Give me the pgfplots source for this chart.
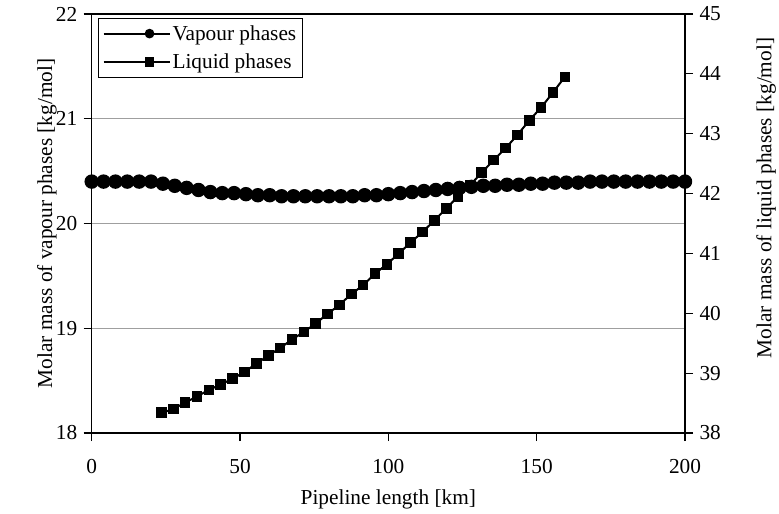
\documentclass[border=0pt]{standalone}
\usepackage{fontspec}
\setmainfont{Liberation Serif}
\usepackage{pgfplots}
\usepackage{pgfplotstable}
\pgfplotsset{compat=1.18}

% molar mass of the vapour phase along the line [kg/mol]
\pgfplotstableread{
x v
0 20.40
4 20.40
8 20.40
12 20.40
16 20.40
20 20.40
24 20.38
28 20.36
32 20.34
36 20.32
40 20.30
44 20.29
48 20.29
52 20.28
56 20.27
60 20.27
64 20.26
68 20.26
72 20.26
76 20.26
80 20.26
84 20.26
88 20.26
92 20.27
96 20.27
100 20.28
104 20.29
108 20.30
112 20.31
116 20.32
120 20.33
124 20.34
128 20.35
132 20.36
136 20.36
140 20.37
144 20.37
148 20.38
152 20.38
156 20.39
160 20.39
164 20.39
168 20.40
172 20.40
176 20.40
180 20.40
184 20.40
188 20.40
192 20.40
196 20.40
200 20.40
}\vapour

% molar mass of the liquid phase along the line [kg/mol]
\pgfplotstableread{
x l
23.5 38.34
27.5 38.40
31.5 38.51
35.5 38.61
39.5 38.72
43.5 38.81
47.5 38.91
51.5 39.02
55.5 39.16
59.5 39.29
63.5 39.42
67.5 39.56
71.5 39.69
75.5 39.83
79.5 39.99
83.5 40.14
87.5 40.32
91.5 40.47
95.5 40.66
99.5 40.82
103.5 41.00
107.5 41.18
111.5 41.36
115.5 41.55
119.5 41.75
123.5 41.95
127.5 42.14
131.5 42.35
135.5 42.56
139.5 42.76
143.5 42.98
147.5 43.22
151.5 43.44
155.5 43.69
159.5 43.95
}\liquid

\begin{document}
\begin{tikzpicture}
% fixed page frame around the plot area
\path[use as bounding box] (-91.7bp,-81bp) rectangle (687.3bp,433bp);
\pgfplotsset{
  every axis/.append style={
    scale only axis, width=593.3bp, height=419bp,
    xmin=0, xmax=200,
    font=\fontsize{21.4}{25}\selectfont,
    /pgf/number format/assume math mode=true,
    tick align=outside, major tick length=8bp,
    axis line style={line width=1.2bp},
    every tick/.style={line width=1.2bp, black},
  },
}
\begin{axis}[
  ymin=18, ymax=22, ytick={18,19,20,21,22},
  xtick={0,50,100,150,200},
  xtick pos=bottom, ytick pos=left,
  ymajorgrids, grid style={gray!75, line width=1.2bp},
  xlabel={Pipeline length [km]},
  ylabel={Molar mass of vapour phases [kg/mol]},
  xlabel style={at={(axis description cs:0.5,-0.158)}, anchor=center},
  ylabel style={at={(axis description cs:-0.0755,0.5)}, anchor=center},
  xticklabel style={yshift=-15bp},
  yticklabel style={xshift=-3bp},
]
\addplot[black, line width=2bp, mark=*, mark size=6.2bp] table[x=x, y=v] {\vapour};
\end{axis}

\begin{axis}[
  axis x line=none, axis y line*=right,
  ymin=38, ymax=45, ytick={38,39,...,45},
  ylabel={Molar mass of liquid phases [kg/mol]},
  ylabel style={at={(axis description cs:1.137,0.561)}, anchor=center},
  yticklabel style={xshift=3bp},
  legend cell align=left,
  legend style={at={(axis description cs:0.0107,0.9905)}, anchor=north west,
    draw=black, line width=1bp, inner xsep=4bp, inner ysep=5bp,
    font=\fontsize{21.4}{25}\selectfont, row sep=8bp},
  legend image code/.code={
    \path (0bp,0bp) -- (26bp,0bp);
    \draw[#1, line width=2bp, mark size=3.8bp, mark repeat=2, mark phase=2]
      plot coordinates {(26bp,0bp) (46bp,0bp) (66bp,0bp)};
  },
]
\addlegendimage{black, line width=2bp, mark=*}
\addlegendentry{Vapour phases\hspace{14bp}}
\addplot[black, line width=2bp, mark=square*, mark size=4.3bp, smooth] table[x=x, y=l] {\liquid};
\addlegendentry{Liquid phases}
\end{axis}
\end{tikzpicture}
\end{document}
